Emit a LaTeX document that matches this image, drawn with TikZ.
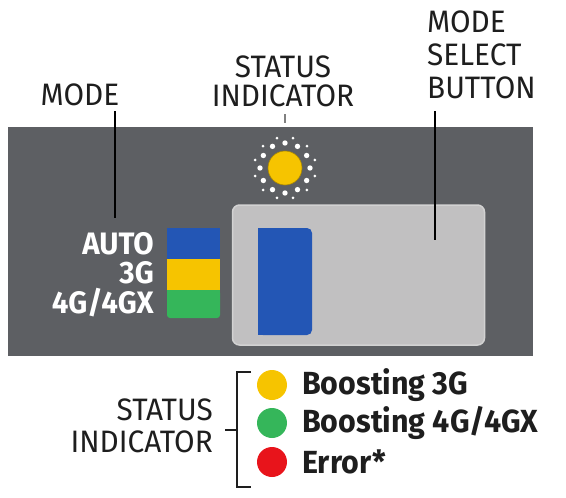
\documentclass[tikz,border=0pt]{standalone}
\usepackage{fontspec}
\setmainfont{Fira Sans}
\usetikzlibrary{calc}
\definecolor{panel}{HTML}{5D5F63}
\definecolor{btn}{HTML}{C1C0C1}
\definecolor{btnedge}{HTML}{D2D2D2}
\definecolor{mblue}{HTML}{2356B5}
\definecolor{myellow}{HTML}{F6C400}
\definecolor{mgreen}{HTML}{35B65A}
\definecolor{mred}{HTML}{E8141B}
\definecolor{ink}{HTML}{1E1E1E}
\newcommand{\lbltxt}[1]{\scalebox{0.96}[1]{\fontsize{31}{32}\selectfont #1}}
\newcommand{\boldtxt}[1]{\scalebox{0.95}[1]{\fontsize{32}{33}\selectfont\bfseries #1}}
\newcommand{\modetxt}[1]{\scalebox{0.95}[1]{\fontsize{31}{32}\selectfont\bfseries #1}}
\tikzset{
  lbl/.style={inner sep=0pt, text=ink},
  wlbl/.style={inner sep=0pt, text=white},
  callout/.style={draw=black, line width=1.6pt},
  dot/.style={circle, inner sep=0pt, minimum size=30pt},
}
\begin{document}
\begin{tikzpicture}[x=1pt,y=-1pt]
\useasboundingbox (0,0) rectangle (566,498);
% panel
\fill[panel] (8,127) rectangle (533,356);
% top labels
\node[lbl] (mode) at (80,95) {\lbltxt{MODE}};
\node[lbl] (st1) at (283,67) {\lbltxt{STATUS}};
\node[lbl] (st2) at (283,96) {\lbltxt{INDICATOR}};
\node[lbl,anchor=west] (ms1) at (427,22) {\lbltxt{MODE}};
\node[lbl,anchor=west] (ms2) at (427,55) {\lbltxt{SELECT}};
\node[lbl,anchor=west] (ms3) at (427,88) {\lbltxt{BUTTON}};
% button
\node[draw=btnedge, line width=1.5pt, fill=btn, rounded corners=7pt, minimum width=252pt, minimum height=140pt, inner sep=0pt] (button) at (358.5,275) {};
\fill[mblue, rounded corners=5pt] (258,228) rectangle (312,335);
\fill[mblue] (258,228) rectangle (270,335);
% mode bars
\fill[mblue] (167,228) rectangle (220,259);
\fill[myellow] (167,259) rectangle (220,290);
\fill[mgreen, rounded corners=3pt] (167,290) rectangle (220,318);
\fill[mgreen] (167,290) rectangle (220,300);
% mode labels
\node[wlbl,anchor=east] (auto) at (154,244) {\modetxt{AUTO}};
\node[wlbl,anchor=east] (g3) at (154,273) {\modetxt{3G}};
\node[wlbl,anchor=east] (g4) at (154,303) {\modetxt{4G/4GX}};
% sun
\node[circle, fill=myellow, draw=myellow!70!black, line width=0.6pt, minimum size=34pt, inner sep=0pt] (sun) at (285,168) {};
\foreach \a in {0,30,...,330}{
  \fill[white] ($(sun.center)+(\a:25)$) circle (2.7pt);
  \fill[white] ($(sun.center)+(\a+15:31)$) circle (1.5pt);
}
% callout lines
\coordinate (modeEnd) at (115,218);
\coordinate (btnEnd) at (435,240);
\coordinate (sunTop) at (285,123);
\draw[callout] (115,111) -- (modeEnd);
\draw[callout] (435,111) -- (btnEnd);
\draw[gray, line width=1.6pt] (285,114) -- (sunTop);
% legend
\node[lbl,anchor=east] (ls1) at (213,410) {\lbltxt{STATUS}};
\node[lbl,anchor=east] (ls2) at (213,442) {\lbltxt{INDICATOR}};
\draw[ink, line width=1.8pt] (251,372) -- (237,372) -- (237,487) -- (251,487);
\draw[ink, line width=1.8pt] (225,430) -- (237,430);
\node[dot, fill=myellow] (c1) at (272,385) {};
\node[dot, fill=mgreen] (c2) at (272,423) {};
\node[dot, fill=mred] (c3) at (272,462) {};
\node[lbl,anchor=west] (t1) at (302,385) {\boldtxt{Boosting 3G}};
\node[lbl,anchor=west] (t2) at (302,423) {\boldtxt{Boosting 4G/4GX}};
\node[lbl,anchor=west] (t3) at (302,462) {\boldtxt{Error*}};
\end{tikzpicture}
\end{document}
